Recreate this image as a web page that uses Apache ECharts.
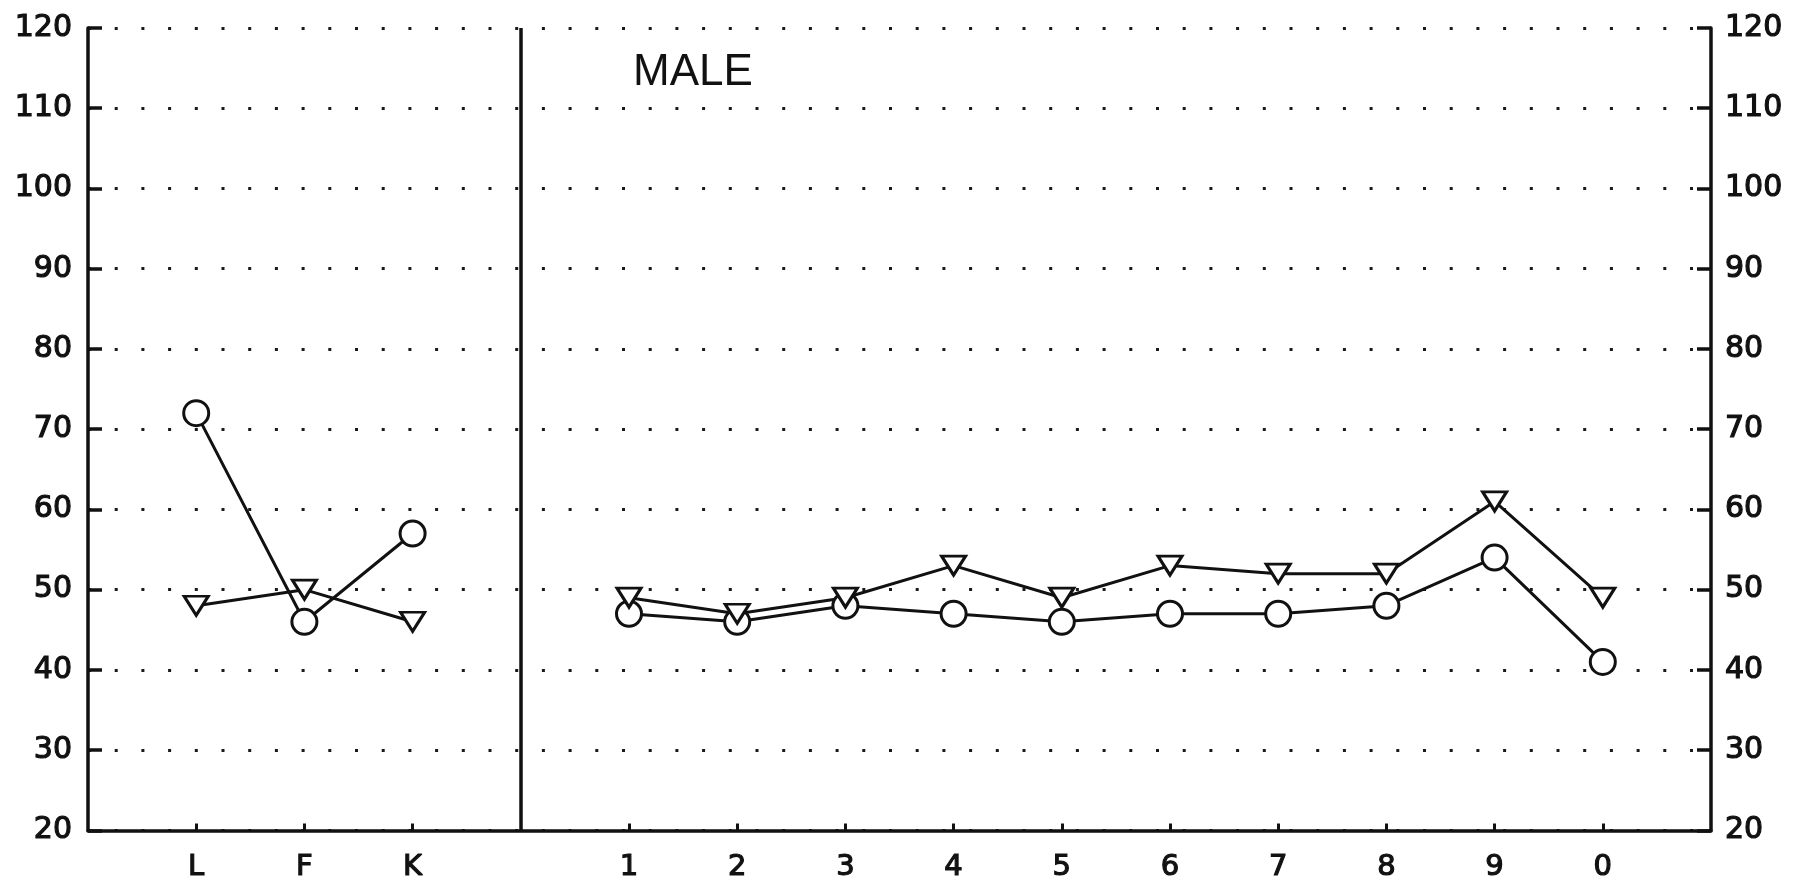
<!DOCTYPE html>
<html>
<head>
<meta charset="utf-8">
<script src="https://cdn.jsdelivr.net/npm/echarts@6/dist/echarts.min.js"></script>
<style>
  html, body { margin: 0; padding: 0; background: #ffffff; }
  #chart { width: 1796px; height: 883px; }
</style>
</head>
<body>
<div id="chart"></div>
<script>
// Profile scales: validity block, then clinical block
const validityScales = ['L', 'F', 'K'];
const clinicalScales = ['1', '2', '3', '4', '5', '6', '7', '8', '9', '0'];

// T-scores, circle profile
const circleValidity = [72, 46, 57];
const circleClinical = [47, 46, 48, 47, 46, 47, 47, 48, 54, 41];

// T-scores, inverted-triangle profile
const triangleValidity = [48, 50, 46];
const triangleClinical = [49, 47, 49, 53, 49, 53, 52, 52, 61, 49];

// Score axis range
const scoreMin = 20;
const scoreMax = 120;
const scoreStep = 10;

const panelTitle = 'MALE';

// Slot layout along x: validity scales at 1..3, divider at 4, clinical at 5..14
const validityPos = validityScales.map((_, i) => i + 1);
const dividerPos = validityScales.length + 1;
const clinicalPos = clinicalScales.map((_, i) => dividerPos + 1 + i);
const xMax = clinicalPos[clinicalPos.length - 1] + 1;

const labelAt = {};
validityScales.forEach((s, i) => { labelAt[validityPos[i]] = s; });
clinicalScales.forEach((s, i) => { labelAt[clinicalPos[i]] = s; });
const tickPositions = validityPos.concat(clinicalPos);

const pair = (pos, vals) => vals.map((v, i) => [pos[i], v]);

const ink = '#111111';
const font = 'DejaVu Sans';

const circleStyle = {
  type: 'line',
  symbol: 'circle',
  symbolSize: 25,
  showSymbol: true,
  lineStyle: { color: ink, width: 3 },
  itemStyle: { color: '#ffffff', borderColor: ink, borderWidth: 3 },
  z: 3
};
const triangleStyle = {
  type: 'line',
  symbol: 'triangle',
  symbolRotate: 180,
  symbolSize: [24, 19],
  showSymbol: true,
  lineStyle: { color: ink, width: 3 },
  itemStyle: { color: '#ffffff', borderColor: ink, borderWidth: 3 },
  z: 3
};

const labelText = {
  fontFamily: font, fontSize: 30, color: ink,
  textBorderColor: ink, textBorderWidth: 1.2
};

const yAxisBase = {
  type: 'value',
  min: scoreMin,
  max: scoreMax,
  interval: scoreStep,
  axisLine: { show: true, onZero: false, lineStyle: { color: ink, width: 3.5 } },
  axisTick: { show: true, inside: true, length: 14, lineStyle: { color: ink, width: 3.5 } }
};

const chart = echarts.init(document.getElementById('chart'), null, { renderer: 'canvas' });
chart.setOption({
  animation: false,
  backgroundColor: '#ffffff',
  grid: { left: 88, right: 85, top: 28, bottom: 52, show: false },
  xAxis: {
    type: 'value',
    min: 0,
    max: xMax,
    interval: 1,
    axisLine: { show: true, onZero: false, lineStyle: { color: ink, width: 3.5 } },
    axisTick: { show: true, inside: true, length: 7, customValues: tickPositions, lineStyle: { color: ink, width: 3 } },
    axisLabel: Object.assign({
      customValues: tickPositions,
      formatter: v => labelAt[v] || '',
      margin: 23
    }, labelText, { fontSize: 29 }),
    splitLine: { show: false }
  },
  yAxis: [
    Object.assign({}, yAxisBase, {
      position: 'left',
      axisLabel: Object.assign({ margin: 16 }, labelText),
      splitLine: { show: true, lineStyle: { color: '#1a1a1a', width: 3, type: [3, 23.7] } }
    }),
    Object.assign({}, yAxisBase, {
      position: 'right',
      axisLabel: Object.assign({ margin: 14 }, labelText),
      splitLine: { show: false }
    })
  ],
  graphic: [{
    type: 'text',
    left: 633,
    top: 51,
    style: { text: panelTitle, font: '44px "Liberation Sans"', fill: ink }
  }],
  series: [
    Object.assign({}, circleStyle, {
      data: pair(validityPos, circleValidity),
      markLine: {
        silent: true,
        symbol: 'none',
        label: { show: false },
        lineStyle: { color: ink, width: 3.5, type: 'solid' },
        data: [{ xAxis: dividerPos }]
      }
    }),
    Object.assign({}, circleStyle, { data: pair(clinicalPos, circleClinical) }),
    Object.assign({}, triangleStyle, { data: pair(validityPos, triangleValidity) }),
    Object.assign({}, triangleStyle, { data: pair(clinicalPos, triangleClinical) })
  ]
});
</script>
</body>
</html>
